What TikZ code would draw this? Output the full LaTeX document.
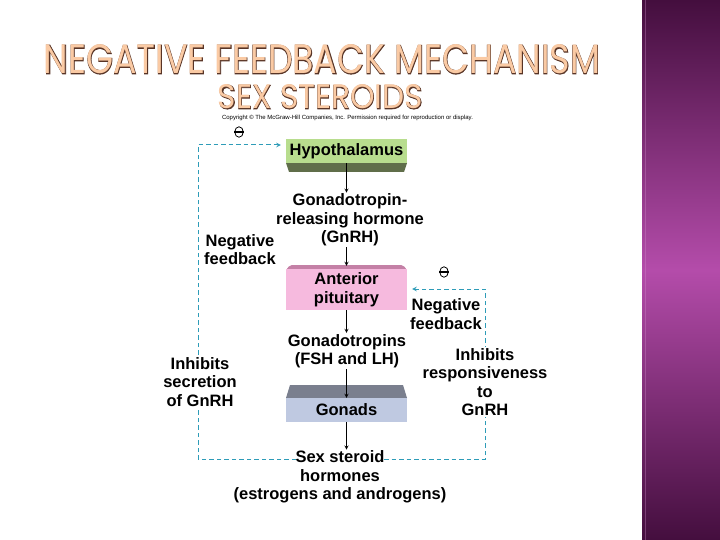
\documentclass[tikz,border=0pt]{standalone}
\usepackage{fontspec}
\setmainfont{Liberation Sans}
\newfontfamily\titlefont{Poppins}
\newfontfamily\titleedge[FakeBold=2.5]{Poppins}
\usetikzlibrary{shapes.geometric}

\definecolor{hypogreen}{RGB}{184,221,142}
\definecolor{hypodark}{RGB}{96,110,74}
\definecolor{antpink}{RGB}{246,186,222}
\definecolor{antdark}{RGB}{196,128,166}
\definecolor{gonblue}{RGB}{191,201,225}
\definecolor{gondark}{RGB}{122,127,142}
\definecolor{fbteal}{RGB}{46,156,184}
\definecolor{paneldark}{RGB}{68,14,62}
\definecolor{panelmid}{RGB}{180,76,170}
\definecolor{titlefill}{RGB}{250,202,164}
\definecolor{titleline}{RGB}{88,52,38}

\begin{document}
\begin{tikzpicture}[x=1pt,y=-1pt]
\tikzstyle{lbl}=[font=\fontsize{16.5}{18.5}\selectfont\bfseries,align=center,inner sep=1pt,fill=white]
\tikzstyle{face}=[font=\fontsize{16.5}{18.5}\selectfont\bfseries,align=center,minimum width=121pt,inner sep=0pt]
\tikzstyle{flow}=[->,>=stealth,line width=0.8pt]
\tikzstyle{fb}=[->,>=stealth,dash pattern=on 4.5pt off 3pt,line width=1pt,fbteal,shorten >=5pt]
\tikzstyle{minuscirc}=[ellipse,draw,line width=0.8pt,minimum width=8.5pt,minimum height=10.5pt,inner sep=0pt]

\useasboundingbox (0,0) rectangle (720,540);
\fill[white] (0,0) rectangle (720,540);

% side panel
\shade[top color=paneldark,bottom color=paneldark,middle color=panelmid] (642,0) rectangle (720,540);
\draw[panelmid!60!white,opacity=0.35] (645,0) -- (645,540);

% title
\node[inner sep=0pt,titleline] (title1edge) at (322,59.5)
  {\resizebox{556pt}{29pt}{\titleedge NEGATIVE FEEDBACK MECHANISM}};
\node[inner sep=0pt,titlefill] (title1) at (title1edge.center)
  {\resizebox{556pt}{29pt}{\titlefont NEGATIVE FEEDBACK MECHANISM}};
\node[inner sep=0pt,titleline] (title2edge) at (320.5,97)
  {\resizebox{205pt}{24pt}{\titleedge SEX STEROIDS}};
\node[inner sep=0pt,titlefill] (title2) at (title2edge.center)
  {\resizebox{205pt}{24pt}{\titlefont SEX STEROIDS}};
\node[font=\fontsize{6}{7}\selectfont,inner sep=0pt] (copyr) at (347.5,117.5)
  {Copyright © The McGraw-Hill Companies, Inc. Permission required for reproduction or display.};

% boxes
\fill[hypodark] (286,163) -- (407,163) -- (404,172) -- (289,172) -- cycle;
\node[face,fill=hypogreen,minimum height=24pt] (hypo) at (346.5,151) {Hypothalamus};

\fill[antdark,rounded corners=2pt] (290,265) -- (403,265) -- (407,270) -- (286,270) -- cycle;
\node[face,fill=antpink,minimum height=41pt] (ant) at (346.5,289.5) {Anterior\\pituitary};

\fill[gondark] (290,385) -- (403,385) -- (407,398) -- (286,398) -- cycle;
\node[face,fill=gonblue,minimum height=24pt] (gon) at (346.5,410) {Gonads};

% hormones
\node[lbl] (gnrh) at (350,220) {Gonadotropin-\\releasing hormone\\(GnRH)};
\node[lbl] (fsh) at (347,351) {Gonadotropins\\(FSH and LH)};
\node[lbl] (sex) at (340,477) {Sex steroid\\hormones\\(estrogens and androgens)};

% main axis
\draw[flow] (hypo.south) -- (hypo.south |- gnrh.north);
\draw[flow,shorten >=3pt] (hypo.south |- gnrh.south) -- (ant.north);
\draw[flow] (ant.south) -- (ant.south |- fsh.north);
\draw[flow] (ant.south |- fsh.south) -- (gon.north);
\draw[flow] (gon.south) -- (gon.south |- sex.north);

% feedback loops
\coordinate (fbL) at (296,459);
\coordinate (fbR) at (384,459);
\coordinate (topL) at (198,145);
\coordinate (topR) at (485,289);
\draw[fb] (fbL) -| (topL) -- (hypo.west |- topL);
\draw[fb] (fbR) -| (topR) -- (ant.east |- topR);

% labels on the loops
\node[lbl] (negL) at (240,249.5) {Negative\\feedback};
\node[lbl] (negR) at (446,314) {Negative\\feedback};
\node[lbl] (inhL) at (200,382) {Inhibits\\secretion\\of GnRH};
\node[lbl] (inhR) at (485,382) {Inhibits\\responsiveness\\to\\GnRH};

% inhibition signs
\node[minuscirc] (mL) at (239,132) {};
\draw[line width=1.4pt] (mL.west) -- (mL.east);
\node[minuscirc] (mR) at (444,272) {};
\draw[line width=1.4pt] (mR.west) -- (mR.east);
\end{tikzpicture}
\end{document}
